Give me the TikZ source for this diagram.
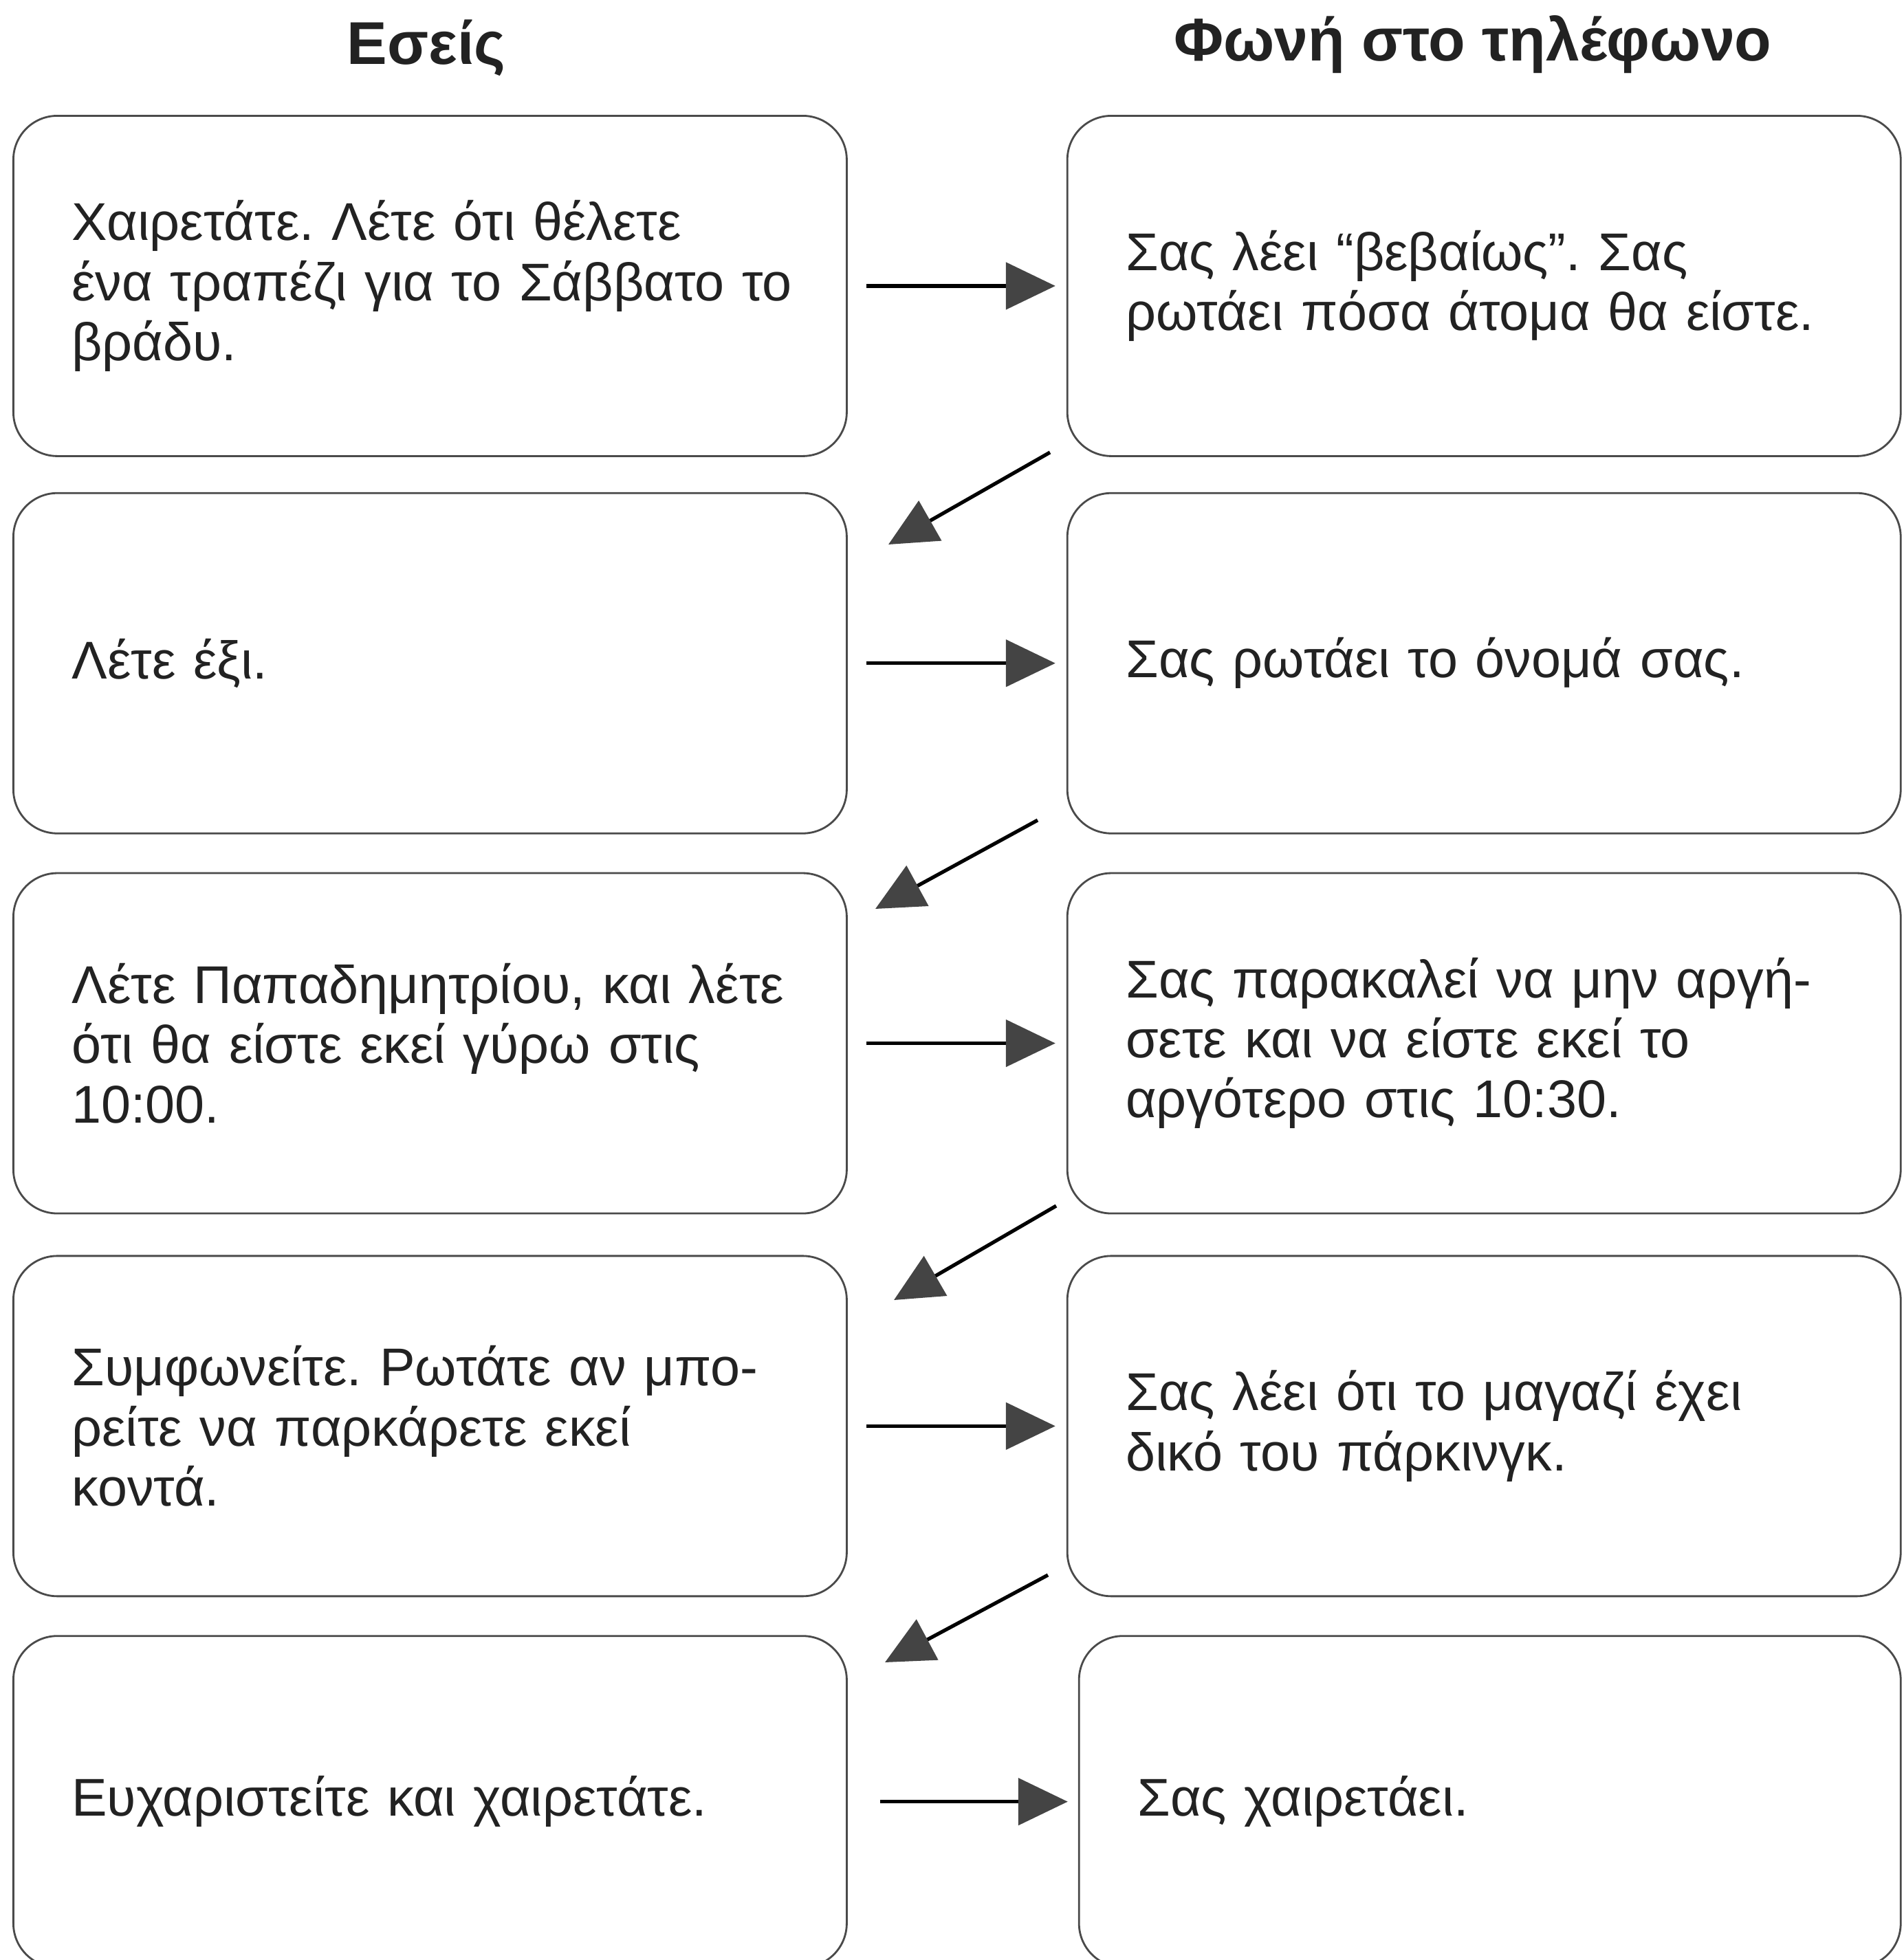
\documentclass[tikz,border=0pt]{standalone}
\usepackage{fontspec}
\setmainfont{Liberation Sans}
\usetikzlibrary{positioning,arrows.meta}
\definecolor{ink}{HTML}{222222}
\definecolor{rim}{HTML}{4a4a4a}
\definecolor{head}{HTML}{444444}
\tikzset{
dialog/.style={
    node distance=0.55cm and 3.18cm,
    font=\fontsize{22}{24.8}\selectfont\frenchspacing,
    text=ink
},
turn/.style={
    rectangle,
    draw=rim,
    line width=0.8pt,
    rounded corners=0.64cm,
    minimum width=12.12cm,
    minimum height=4.95cm,
    text width=10.42cm,
    inner xsep=0.85cm,
    align=left
},
heading/.style={
    font=\bfseries\fontsize{25}{30}\selectfont,
    text=ink,
    anchor=base
},
says/.style={
    -{Triangle[length=0.72cm,width=0.68cm,color=head,fill=head]},
    line width=1.5pt,
    shorten <=0.27cm,
    shorten >=0.16cm
},
backto/.style={
    -{Triangle[length=0.7cm,width=0.66cm,color=head,fill=head]},
    line width=1.5pt
}}

\begin{document}
\begin{tikzpicture}[dialog]
\useasboundingbox (0,0) rectangle (27.69,-28.51);

\node[turn, anchor=north west]  (y1)    at (0.18,-1.67)  {Χαιρετάτε. Λέτε ότι θέλετε\\ \mbox{ένα τραπέζι για το Σάββατο το}\\ βράδυ.};
\node[turn]     (y2)    [below=0.51cm of y1]    {Λέτε έξι.};
\node[turn]     (y3)    [below=of y2]    {Λέτε Παπαδημητρίου, και λέτε\\ ότι θα είστε εκεί γύρω στις\\ 10:00.};
\node[turn]     (y4)    [below=0.59cm of y3]    {Συμφωνείτε. Ρωτάτε αν μπο-\\ ρείτε να παρκάρετε εκεί\\ κοντά.};
\node[turn, minimum height=4.82cm]     (y5)    [below=of y4]    {Ευχαριστείτε και χαιρετάτε.};

\node[turn]     (v1)    [right=of y1]    {Σας λέει “βεβαίως”. Σας\\ ρωτάει πόσα άτομα θα είστε.};
\node[turn]     (v2)    [right=of y2]    {Σας ρωτάει το όνομά σας.};
\node[turn]     (v3)    [right=of y3]    {Σας παρακαλεί να μην αργή-\\ σετε και να είστε εκεί το\\ αργότερο στις 10:30.};
\node[turn]     (v4)    [right=of y4]    {Σας λέει ότι το μαγαζί έχει\\ δικό του πάρκινγκ.};
\node[turn, minimum height=4.82cm, minimum width=11.95cm, text width=10.25cm]     (v5)    [right=3.35cm of y5]    {Σας χαιρετάει.};

\node[heading]  (you)   at (6.2,-0.93)   {Εσείς};
\node[heading]  (voice) at (21.42,-0.88) {Φωνή στο τηλέφωνο};

\coordinate (s1) at (15.27,-6.58);
\coordinate (t1) at (12.92,-7.92);
\coordinate (s2) at (15.09,-11.93);
\coordinate (t2) at (12.73,-13.22);
\coordinate (s3) at (15.36,-17.54);
\coordinate (t3) at (13.00,-18.91);
\coordinate (s4) at (15.24,-22.91);
\coordinate (t4) at (12.87,-24.18);

\path    (y1)    edge[says]    (v1);
\path    (y2)    edge[says]    (v2);
\path    (y3)    edge[says]    (v3);
\path    (y4)    edge[says]    (v4);
\path    (y5)    edge[says, shorten <=0.47cm, shorten >=0.15cm]    (v5);

\path    (s1)    edge[backto]    (t1);
\path    (s2)    edge[backto]    (t2);
\path    (s3)    edge[backto]    (t3);
\path    (s4)    edge[backto]    (t4);
\end{tikzpicture}
\end{document}
